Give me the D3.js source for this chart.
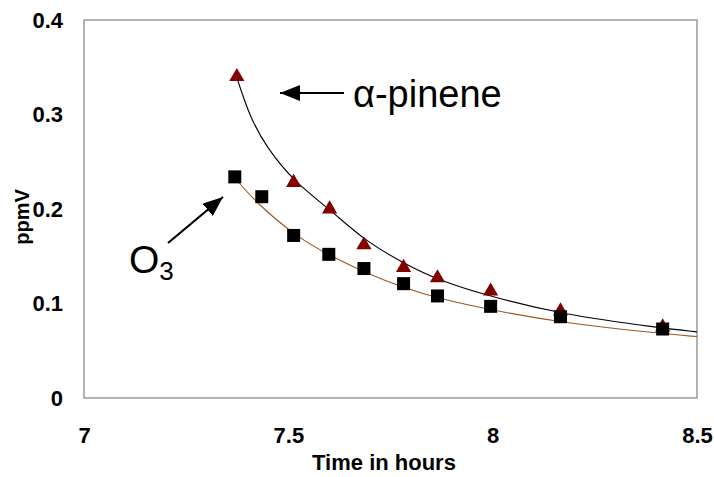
<!DOCTYPE html>
<html>
<head>
<meta charset="utf-8">
<script src="https://cdn.jsdelivr.net/npm/d3@7"></script>
<style>
  html, body { margin: 0; padding: 0; background: #fff; }
  svg { display: block; font-family: "Liberation Sans", Arial, sans-serif; }
</style>
</head>
<body>
<svg id="chart" width="714" height="477"></svg>
<script>
// ---- data ----
const xTicks = [7, 7.5, 8, 8.5];
const yTicks = [0, 0.1, 0.2, 0.3, 0.4];

const pineneTime = [7.374, 7.513, 7.601, 7.685, 7.782, 7.865, 7.995, 8.166, 8.416];
const pineneValue = [0.340, 0.228, 0.200, 0.162, 0.138, 0.127, 0.113, 0.092, 0.075];

const ozoneTime = [7.369, 7.435, 7.513, 7.599, 7.685, 7.782, 7.865, 7.995, 8.166, 8.416];
const ozoneValue = [0.234, 0.213, 0.172, 0.152, 0.137, 0.121, 0.108, 0.097, 0.086, 0.073];

// fitted trend lines
const pineneFitTime = [7.374, 7.406, 7.447, 7.516, 7.601, 7.682, 7.780, 7.870, 7.998, 8.164, 8.413, 8.500];
const pineneFitValue = [0.339, 0.297, 0.265, 0.228, 0.200, 0.168, 0.143, 0.124, 0.107, 0.089, 0.074, 0.070];

const ozoneFitTime = [7.369, 7.418, 7.521, 7.609, 7.692, 7.780, 7.870, 7.998, 8.164, 8.413, 8.500];
const ozoneFitValue = [0.233, 0.208, 0.170, 0.149, 0.132, 0.117, 0.105, 0.093, 0.080, 0.068, 0.065];

// ---- layout ----
const svg = d3.select("#chart");
const L = 84, R = 697, T = 20, B = 398;
const FONT = "Liberation Sans, Arial, sans-serif";

const x = d3.scaleLinear().domain([7, 8.5]).range([L, R]);
const y = d3.scaleLinear().domain([0, 0.4]).range([B, T]);

// frame
svg.append("rect")
  .attr("x", L).attr("y", T).attr("width", R - L).attr("height", B - T)
  .attr("fill", "none").attr("stroke", "#808080").attr("stroke-width", 1.2);

// y axis labels
const yAxis = d3.axisLeft(y).tickValues(yTicks).tickSize(0).tickPadding(21)
  .tickFormat(d => d === 0 ? "0" : d3.format(".1f")(d));
const gy = svg.append("g").attr("transform", `translate(${L},0)`).call(yAxis);
gy.select(".domain").remove();
gy.attr("font-size", 22).attr("font-family", FONT);
gy.selectAll("text").attr("font-size", 22).attr("font-weight", "bold").attr("fill", "#000");

// x axis labels
const xAxis = d3.axisBottom(x).tickValues(xTicks).tickSize(0).tickPadding(29)
  .tickFormat(d => String(d));
const gx = svg.append("g").attr("transform", `translate(0,${B})`).call(xAxis);
gx.select(".domain").remove();
gx.attr("font-size", 22).attr("font-family", FONT);
gx.selectAll("text").attr("font-size", 22).attr("font-weight", "bold").attr("fill", "#000");

// axis titles
svg.append("text").attr("x", 384).attr("y", 470)
  .attr("text-anchor", "middle").attr("font-size", 22).attr("font-weight", "bold")
  .text("Time in hours");
svg.append("text").attr("transform", "translate(29,217) rotate(-90)")
  .attr("text-anchor", "middle").attr("font-size", 20).attr("font-weight", "bold")
  .text("ppmV");

// trend lines
const line = d3.line().x(d => x(d[0])).y(d => y(d[1])).curve(d3.curveBasis);
svg.append("path").datum(d3.zip(pineneFitTime, pineneFitValue))
  .attr("d", line).attr("fill", "none").attr("stroke", "#000").attr("stroke-width", 1.1);
svg.append("path").datum(d3.zip(ozoneFitTime, ozoneFitValue))
  .attr("d", line).attr("fill", "none").attr("stroke", "#a0561a").attr("stroke-width", 1.1);

// markers: triangles drawn first, squares on top
const tri = d3.symbol().type(d3.symbolTriangle).size(100);
svg.append("g").selectAll("path").data(d3.zip(pineneTime, pineneValue)).join("path")
  .attr("transform", d => `translate(${x(d[0])},${y(d[1])})`)
  .attr("d", tri).attr("fill", "#800000");

const sq = 13;
svg.append("g").selectAll("rect").data(d3.zip(ozoneTime, ozoneValue)).join("rect")
  .attr("x", d => x(d[0]) - sq / 2).attr("y", d => y(d[1]) - sq / 2)
  .attr("width", sq).attr("height", sq).attr("fill", "#000");

// arrows and annotations
const defs = svg.append("defs");
defs.append("marker").attr("id", "ah").attr("viewBox", "0 0 20 16")
  .attr("refX", 20).attr("refY", 8).attr("markerWidth", 20).attr("markerHeight", 16)
  .attr("markerUnits", "userSpaceOnUse").attr("orient", "auto")
  .append("path").attr("d", "M0,0 L20,8 L0,16 Z").attr("fill", "#000");

svg.append("line").attr("x1", 344).attr("y1", 93).attr("x2", 280).attr("y2", 93)
  .attr("stroke", "#000").attr("stroke-width", 2.2).attr("marker-end", "url(#ah)");
svg.append("text").attr("x", 353).attr("y", 107).attr("font-size", 38)
  .attr("font-family", FONT).text("α-pinene");

svg.append("line").attr("x1", 168).attr("y1", 243).attr("x2", 223).attr("y2", 197)
  .attr("stroke", "#000").attr("stroke-width", 2.2).attr("marker-end", "url(#ah)");
const o3 = svg.append("text").attr("x", 129).attr("y", 273).attr("font-size", 39)
  .attr("font-family", FONT);
o3.append("tspan").text("O");
o3.append("tspan").attr("font-size", 26).attr("dy", 7).text("3");
</script>
</body>
</html>
